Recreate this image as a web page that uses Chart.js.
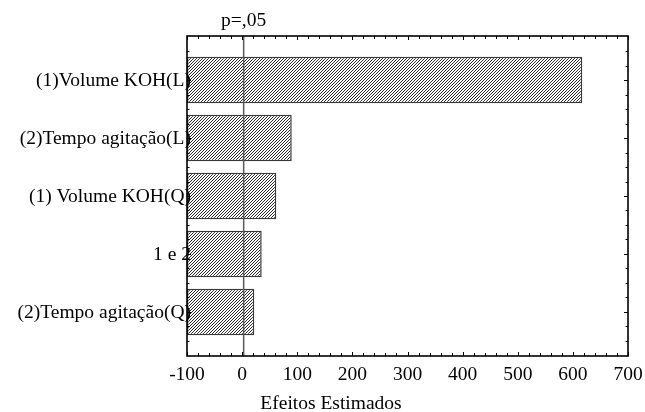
<!DOCTYPE html>
<html>
<head>
<meta charset="utf-8">
<script src="https://cdn.jsdelivr.net/npm/chart.js@4.4.1/dist/chart.umd.min.js"></script>
<style>
  html, body { margin: 0; padding: 0; background: #fff; }
  #wrap { width: 645px; height: 412px; }
</style>
</head>
<body>
<div id="wrap"><canvas id="chart" width="645" height="412"></canvas></div>
<script>
// efeitos padronizados (Pareto)
const efeitos = ['(1)Volume KOH(L)', '(2)Tempo agitação(L)', '(1) Volume KOH(Q)', '1 e 2', '(2)Tempo agitação(Q)'];
const valores = [617, 90, 62, 35.5, 22];
const xMin = -100;
const xMax = 700;
const xPasso = 100;
const pCritico = 2.78;
const pRotulo = 'p=,05';
const tituloX = 'Efeitos Estimados';

const fonte = { family: '"Liberation Serif", "Times New Roman", serif', size: 19.5 };

function hachura(ctx) {
  const n = 3;
  const c = document.createElement('canvas');
  c.width = n; c.height = n;
  const g = c.getContext('2d');
  g.fillStyle = '#fff';
  g.fillRect(0, 0, n, n);
  g.strokeStyle = '#2a2a2a';
  g.lineWidth = 1;
  g.beginPath();
  g.moveTo(0, n); g.lineTo(n, 0);
  g.moveTo(-1, 1); g.lineTo(1, -1);
  g.moveTo(n - 1, n + 1); g.lineTo(n + 1, n - 1);
  g.stroke();
  return ctx.createPattern(c, 'repeat');
}

function linha(ctx, x1, y1, x2, y2) {
  ctx.beginPath();
  ctx.moveTo(x1, y1);
  ctx.lineTo(x2, y2);
  ctx.stroke();
}

// moldura, marcas internas, linha de p e textos (os nomes dos efeitos passam por cima das barras)
const moldura = {
  id: 'moldura',
  afterDatasetsDraw(chart) {
    const { ctx, chartArea: a, scales: { x, y } } = chart;
    ctx.save();

    const px = x.getPixelForValue(pCritico);
    ctx.strokeStyle = '#5a5a5a';
    ctx.lineWidth = 1.5;
    linha(ctx, px, a.top, px, a.bottom);

    ctx.strokeStyle = '#000';
    ctx.lineWidth = 1;
    for (let v = xMin; v <= xMax; v += 20) {
      const p = Math.round(x.getPixelForValue(v)) + 0.5;
      const len = v % 100 === 0 ? 4 : 3;
      linha(ctx, p, a.bottom, p, a.bottom - len);
      linha(ctx, p, a.top, p, a.top + len);
    }
    for (let i = -2; i <= 18; i++) {
      const p = Math.round(y.getPixelForValue(i / 4)) + 0.5;
      const len = i % 4 === 0 ? 4 : 2.5;
      linha(ctx, a.left, p, a.left + len, p);
      linha(ctx, a.right, p, a.right - len, p);
    }

    ctx.lineWidth = 1.6;
    ctx.strokeRect(a.left, a.top, a.right - a.left, a.bottom - a.top);

    ctx.fillStyle = '#000';
    ctx.font = fonte.size + 'px ' + fonte.family;
    ctx.textBaseline = 'middle';
    ctx.textAlign = 'right';
    efeitos.forEach((nome, i) => {
      ctx.fillText(nome, a.left + 4, y.getPixelForValue(i) + 1);
    });

    ctx.textAlign = 'center';
    ctx.textBaseline = 'alphabetic';
    ctx.fillText(pRotulo, px, 26);
    ctx.fillText(tituloX, 331, 409);
    ctx.restore();
  }
};

const canvas = document.getElementById('chart');
const ctx = canvas.getContext('2d');

new Chart(ctx, {
  type: 'bar',
  data: {
    datasets: [{
      data: valores.map((v, i) => ({ x: v, y: i })),
      base: xMin,
      backgroundColor: hachura(ctx),
      borderColor: '#3a3a3a',
      borderWidth: 1.5,
      borderSkipped: false,
      categoryPercentage: 1,
      barPercentage: 0.8
    }]
  },
  options: {
    indexAxis: 'y',
    responsive: false,
    animation: false,
    events: [],
    layout: { padding: { top: 36, right: 17, left: 0, bottom: 0 } },
    plugins: { legend: { display: false }, tooltip: { enabled: false } },
    scales: {
      x: {
        type: 'linear',
        min: xMin,
        max: xMax,
        ticks: { stepSize: xPasso, color: '#000', font: fonte, padding: 7, maxRotation: 0 },
        grid: { display: false, drawTicks: false },
        border: { display: false },
        afterFit(scale) {
          scale.height = 56;
          scale.paddingLeft = 0;
          scale.paddingRight = 0;
        }
      },
      y: {
        type: 'linear',
        reverse: true,
        offset: false,
        min: -0.76,
        max: 4.76,
        afterBuildTicks(scale) { scale.ticks = efeitos.map((_, i) => ({ value: i })); },
        ticks: { display: false },
        grid: { display: false, drawTicks: false, offset: false },
        border: { display: false },
        afterFit(scale) { scale.width = 187; }
      }
    }
  },
  plugins: [moldura]
});
</script>
</body>
</html>
